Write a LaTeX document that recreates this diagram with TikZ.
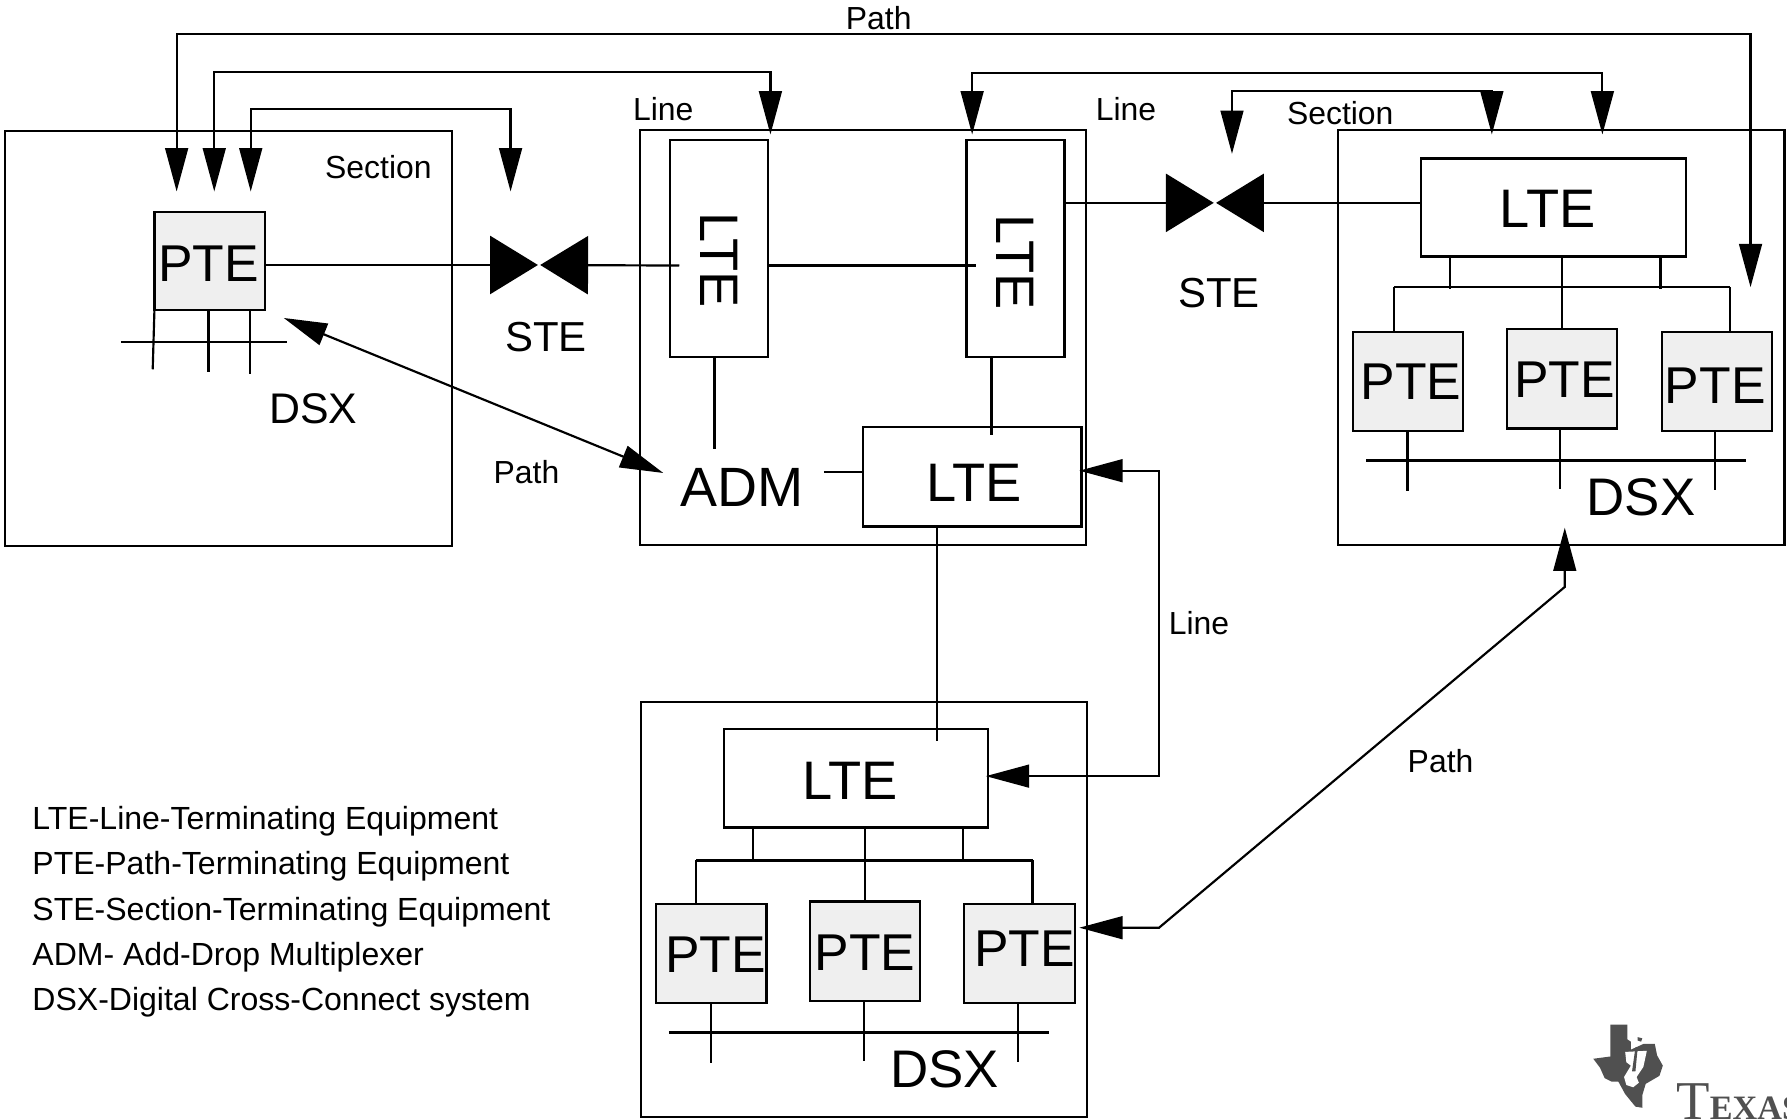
\documentclass[tikz,border=0pt]{standalone}
\usepackage{fontspec}
\setmainfont{Liberation Sans}
\newfontfamily\logofont{Liberation Serif}
\usetikzlibrary{arrows.meta, positioning, calc}
\definecolor{ptegray}{HTML}{EFEFEF}
\definecolor{logogray}{HTML}{505050}

\begin{document}
\begin{tikzpicture}[x=0.5pt, y=-0.5pt, line width=0.95pt, >={Triangle[length=19pt,width=10pt]}]
    \tikzstyle{frame} = [rectangle, draw=black, minimum width=195.75pt, minimum height=182pt, inner sep=0pt, outer sep=0pt]
    \tikzstyle{ptebox} = [rectangle, draw=black, fill=ptegray, minimum width=48.5pt, minimum height=43.5pt, inner sep=0pt, outer sep=0pt]
    \tikzstyle{ltewide} = [rectangle, draw=black, minimum width=116pt, minimum height=43pt, inner sep=0pt, outer sep=0pt]
    \tikzstyle{ltetall} = [rectangle, draw=black, minimum width=43pt, minimum height=95pt, inner sep=0pt, outer sep=0pt]
    \tikzstyle{ptetext} = [inner sep=0pt, font=\fontsize{22.7}{22.7}\selectfont]
    \tikzstyle{ltetext} = [inner sep=0pt, font=\fontsize{23.8}{23.8}\selectfont]
    \tikzstyle{midtext} = [inner sep=0pt, font=\fontsize{18.4}{18.4}\selectfont]
    \tikzstyle{smalltext} = [inner sep=0pt, font=\fontsize{14}{14}\selectfont]
    \tikzstyle{arrow} = [<->]
    \tikzstyle{stearrow} = [-{Triangle[length=21pt,width=25.5pt]}]
    \useasboundingbox (0,0) rectangle (1568,981);
    \clip (0,0) rectangle (1568,981);
    % equipment
    \node (dsxleft) [frame] at (200.5,297) {};
    \node (admframe) [frame] at (757,296) {};
    \node (dsxright) [frame] at (1370,296) {};
    \node (dsxbottom) [frame] at (758,798) {};
    \node (ptea) [ptebox, minimum height=43pt] at (184,229) {};
    \node (lteone) [ltetall] at (631,218) {};
    \node (ltetwo) [ltetall] at (891,218) {};
    \node (ltethree) [ltewide, minimum width=96pt, minimum height=43.5pt] at (853,418.5) {};
    \node (ltefour) [ltewide] at (1363,182) {};
    \node (ptef) [ptebox] at (1235.5,334.5) {};
    \node (pteg) [ptebox, right=19pt of ptef, yshift=1pt] {};
    \node (pteh) [ptebox] at (1506.5,334.5) {};
    \node (ltefive) [ltewide] at (751,683) {};
    \node (ptei) [ptebox] at (624,836.5) {};
    \node (ptej) [ptebox, right=19pt of ptei, yshift=1pt] {};
    \node (ptek) [ptebox] at (894.5,836.5) {};
    % texts
    \node (pteatext) [ptetext] at (183,231) {PTE};
    \node (ltetextone) [ltetext, rotate=-90] at (631,228) {LTE};
    \node (ltetexttwo) [ltetext, rotate=-90] at (891,230) {LTE};
    \node (ltetextthree) [ltetext] at (855,424) {LTE};
    \node (ltetextfour) [ltetext] at (1358,183) {LTE};
    \node (ltetextfive) [ltetext] at (746,685) {LTE};
    \node (ptetextf) [ptetext] at (1238,335) {PTE};
    \node (ptetextg) [ptetext] at (1373,333) {PTE};
    \node (ptetexth) [ptetext] at (1505,338) {PTE};
    \node (ptetexti) [ptetext] at (628,838) {PTE};
    \node (ptetextj) [ptetext] at (759,836) {PTE};
    \node (ptetextk) [ptetext] at (899,832) {PTE};
    \node (admtext) [ltetext, font=\fontsize{24.3}{24.3}\selectfont] at (651,428) {ADM};
    \node (dsxlefttext) [midtext, font=\fontsize{18.8}{18.8}\selectfont] at (275,359) {DSX};
    \node (dsxrighttext) [ltetext, font=\fontsize{23.2}{23.2}\selectfont] at (1440,436) {DSX};
    \node (dsxbottomtext) [ltetext, font=\fontsize{23.2}{23.2}\selectfont] at (829,938) {DSX};
    \node (steone) [midtext] at (479,296) {STE};
    \node (stetwo) [midtext] at (1069.5,257) {STE};
    \node (pathtop) [smalltext] at (771,16) {Path};
    \node (sectionone) [smalltext] at (332,147) {Section};
    \node (lineone) [smalltext] at (582,96) {Line};
    \node (linetwo) [smalltext] at (988,96) {Line};
    \node (sectiontwo) [smalltext] at (1176,99) {Section};
    \node (pathadm) [smalltext] at (462,414) {Path};
    \node (linethree) [smalltext] at (1052,547) {Line};
    \node (pathbottom) [smalltext] at (1264,668) {Path};
    \node (legend) [inner sep=0pt, anchor=west, align=left, font=\fontsize{14.05}{19.85}\selectfont] at (27.5,800) {LTE-Line-Terminating Equipment\\PTE-Path-Terminating Equipment\\STE-Section-Terminating Equipment\\ADM- Add-Drop Multiplexer\\DSX-Digital Cross-Connect system};
    % free ends of the connectors
    \coordinate (pathl) at (155,168);
    \coordinate (pathr) at (1536,252);
    \coordinate (pathy) at (771,30);
    \coordinate (linel) at (188,168);
    \coordinate (liner) at (676,118);
    \coordinate (liney) at (430,63);
    \coordinate (secl) at (220,168);
    \coordinate (secr) at (448,168);
    \coordinate (secy) at (330,96);
    \coordinate (linebl) at (853,118);
    \coordinate (linebr) at (1406,118);
    \coordinate (lineby) at (1130,64);
    \coordinate (secbl) at (1081,135);
    \coordinate (secbr) at (1309,118);
    \coordinate (secby) at (1195,80);
    \coordinate (stea) at (472,232.5);
    \coordinate (steb) at (474,232.5);
    \coordinate (stec) at (1065,178);
    \coordinate (sted) at (1067,178);
    \coordinate (lteonein) at (596,233);
    \coordinate (ltetwoin) at (856,233);
    \coordinate (lefttip) at (249,279);
    \coordinate (admtip) at (582,415);
    \coordinate (admup) at (627,394);
    \coordinate (admright) at (723,414);
    \coordinate (lteoneadm) at (627,314);
    \coordinate (ltetwoadm) at (870,382);
    \coordinate (ltedown) at (822,650);
    \coordinate (ltethreetip) at (947,413);
    \coordinate (ltefivetip) at (865,681);
    \coordinate (linemid) at (1017,547);
    \coordinate (dsxtip) at (1373,463);
    \coordinate (bendup) at (1373,515);
    \coordinate (benddown) at (1017,814);
    \coordinate (ptektip) at (947,814);
    % left DSX bus
    \coordinate (busal) at (106,300);
    \coordinate (busar) at (252,300);
    \coordinate (tailaa) at (134,324);
    \coordinate (tailab) at (183,326);
    \coordinate (tailac) at (219,328);
    % right DSX bus
    \coordinate (busbl) at (1223,252);
    \coordinate (busbr) at (1518,252);
    \coordinate (stubba) at (1272,254);
    \coordinate (stubbb) at (1457,254);
    \coordinate (buscl) at (1199,404);
    \coordinate (buscr) at (1532,404);
    \coordinate (tailf) at (1235,431);
    \coordinate (tailg) at (1369,429);
    \coordinate (tailh) at (1505,430);
    % bottom DSX bus
    \coordinate (busdl) at (611,755);
    \coordinate (busdr) at (906,755);
    \coordinate (stubda) at (661,756);
    \coordinate (stubdb) at (845,756);
    \coordinate (busel) at (587,906);
    \coordinate (buser) at (920,906);
    \coordinate (taili) at (624,933);
    \coordinate (tailj) at (758,931);
    \coordinate (tailk) at (893,932);
    % connectors
    \draw [arrow] (pathl) |- (pathy) -| (pathr);
    \draw [arrow] (linel) |- (liney) -| (liner);
    \draw [arrow] (secl) |- (secy) -| (secr);
    \draw [arrow] (linebl) |- (lineby) -| (linebr);
    \draw [arrow] (secbl) |- (secby) -| (secbr);
    \draw [stearrow] (ptea.east |- stea) -- (stea);
    \draw [stearrow] (lteonein) -- (steb);
    \draw [stearrow] (ltetwo.east |- stec) -- (stec);
    \draw [stearrow] (ltefour.west |- sted) -- (sted);
    \draw (lteone.east |- ltetwoin) -- (ltetwoin);
    \draw [arrow] (lefttip) -- (admtip);
    \draw (lteoneadm) -- (admup);
    \draw (ltetwo.south -| ltetwoadm) -- (ltetwoadm);
    \draw (admright) -- (ltethree.west |- admright);
    \draw (ltethree.south -| ltedown) -- (ltedown);
    \draw [arrow] (ltethreetip) -| (linemid) |- (ltefivetip);
    \draw [arrow] (dsxtip) -- (bendup) -- (benddown) -- (ptektip);
    \draw (busal) -- (busar);
    \draw (ptea.south west) -- (tailaa);
    \draw (ptea.south -| tailab) -- (tailab);
    \draw (ptea.south -| tailac) -- (tailac);
    \draw (busbl) -- (busbr);
    \draw (ltefour.south -| stubba) -- (stubba);
    \draw (ltefour.south -| stubbb) -- (stubbb);
    \draw (ltefour.south -| pteg.north) -- (pteg.north);
    \draw (busbl) -- (busbl |- ptef.north);
    \draw (busbr) -- (busbr |- pteh.north);
    \draw (buscl) -- (buscr);
    \draw (ptef.south -| tailf) -- (tailf);
    \draw (pteg.south -| tailg) -- (tailg);
    \draw (pteh.south -| tailh) -- (tailh);
    \draw (busdl) -- (busdr);
    \draw (ltefive.south -| stubda) -- (stubda);
    \draw (ltefive.south -| stubdb) -- (stubdb);
    \draw (ltefive.south -| ptej.north) -- (ptej.north);
    \draw (busdl) -- (busdl |- ptei.north);
    \draw (busdr) -- (busdr |- ptek.north);
    \draw (busel) -- (buser);
    \draw (ptei.south -| taili) -- (taili);
    \draw (ptej.south -| tailj) -- (tailj);
    \draw (ptek.south -| tailk) -- (tailk);
    % logo
    \fill [logogray] (1413,899) -- (1428,899) -- (1428,912) -- (1431,914) -- (1431,921) -- (1442,916) -- (1452,916) -- (1454,926) -- (1459,935) -- (1456,944) -- (1444,951) -- (1441,961) -- (1441,972) -- (1435,971) -- (1426,960) -- (1420,949) -- (1414,949) -- (1408,946) -- (1404,937) -- (1398,929) -- (1413,927) -- cycle;
    \fill [white] (1426,923) -- (1445,922) -- (1442,936) -- (1436,945) -- (1438,950) -- (1433,954) -- (1427,952) -- (1425,945) -- (1431,935) -- (1427,932) -- cycle;
    \fill [logogray] (1435,919) -- (1437,919) -- (1435,940) -- (1432,940) -- cycle;
    \fill [logogray] (1437,910) -- (1441,911) -- (1440,914) -- (1437,913) -- cycle;
    \node (texas) [inner sep=0pt, anchor=base west, text=logogray] at (1470,982) {\logofont{\fontsize{24}{24}\selectfont T}{\bfseries\fontsize{15}{15}\selectfont EXAS}};
\end{tikzpicture}
\end{document}
